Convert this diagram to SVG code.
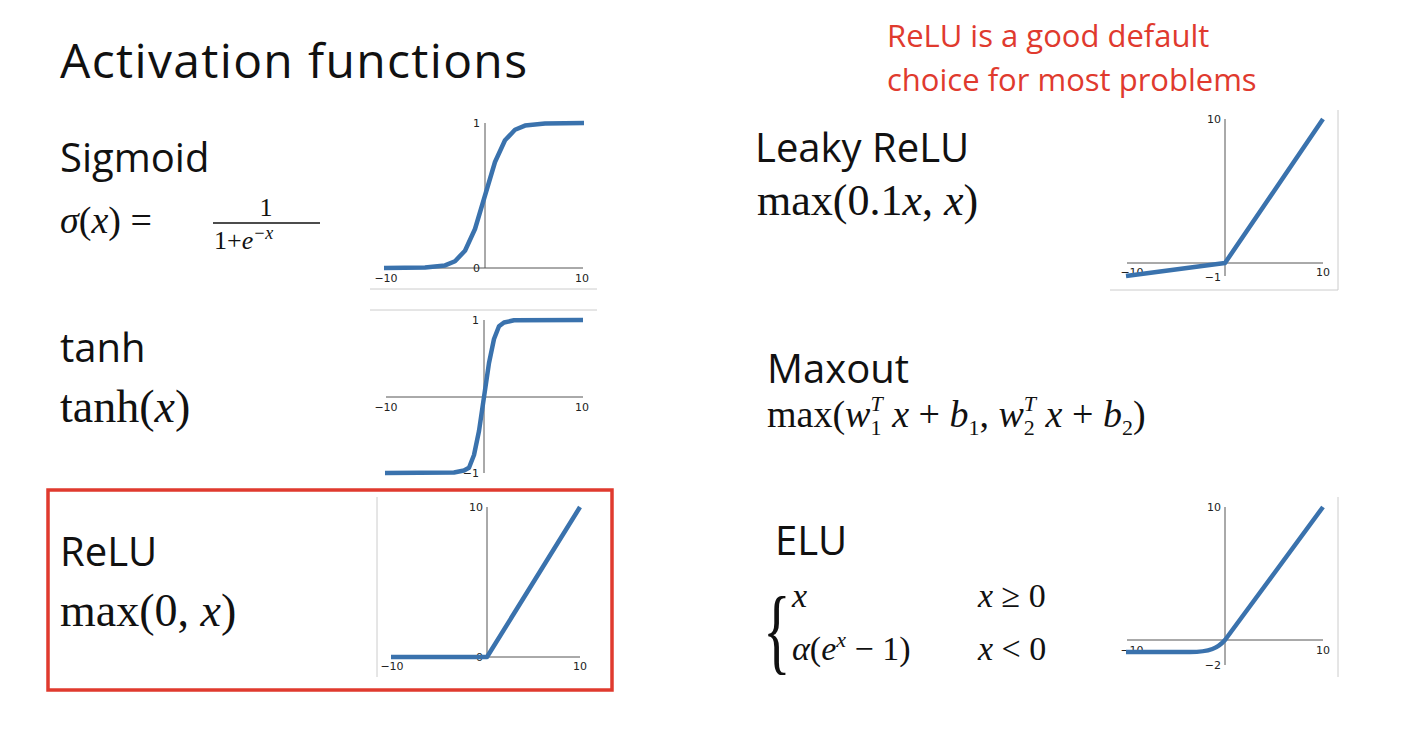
<svg xmlns="http://www.w3.org/2000/svg" width="1425" height="741" viewBox="0 0 1425 741">
<style>
.t{font-family:"Open Sans","Noto Sans",sans-serif;fill:#111}
.m{font-family:"Liberation Serif","DejaVu Serif",serif;fill:#111}
.i{font-style:italic}
.ax{stroke:#555;stroke-width:1;fill:none}
.fr{stroke:#ccc;stroke-width:1;fill:none}
.c{stroke:#3a72ad;stroke-width:4.5;fill:none;stroke-linejoin:round}
.tk{font-family:"DejaVu Sans",sans-serif;font-size:11px;fill:#222}
</style>
<rect width="1425" height="741" fill="#fff"/>
<text class="t" x="60" y="78" font-size="48" textLength="467">Activation functions</text>
<text x="887" y="47" font-family="Open Sans,sans-serif" font-size="31" fill="#e03a2e">ReLU is a good default</text>
<text x="887" y="91" font-family="Open Sans,sans-serif" font-size="31" fill="#e03a2e">choice for most problems</text>

<g id="sigmoid">
<text class="t" x="60" y="172" font-size="40">Sigmoid</text>
<text class="m" x="60" y="233" font-size="38"><tspan class="i">σ</tspan>(<tspan class="i">x</tspan>) =</text>
<text class="m" x="266" y="216" font-size="26" text-anchor="middle">1</text>
<line x1="213" y1="223" x2="320" y2="223" stroke="#111" stroke-width="1.5"/>
<text class="m" x="214" y="249" font-size="26">1+<tspan class="i">e</tspan><tspan font-size="18" dy="-10" class="i">−x</tspan></text>
<line class="fr" x1="370" y1="289" x2="597" y2="289"/>
<line class="ax" x1="384" y1="268" x2="583" y2="268"/>
<line class="ax" x1="485" y1="123" x2="485" y2="268"/>
<text class="tk" x="480" y="127" text-anchor="end">1</text>
<text class="tk" x="480" y="272" text-anchor="end">0</text>
<text class="tk" x="386" y="282" text-anchor="middle">−10</text>
<text class="tk" x="582" y="282" text-anchor="middle">10</text>
<polyline class="c" points="384,268 425,267.6 445,265.4 455,261.2 465,250.7 475,229 485,195.5 495,162 505,140.3 515,129.8 525,125.6 545,123.4 584,123"/>
</g>

<g id="tanh">
<text class="t" x="60" y="362" font-size="40">tanh</text>
<text class="m" x="60" y="422" font-size="46">tanh(<tspan class="i">x</tspan>)</text>
<line class="fr" x1="370" y1="310" x2="597" y2="310"/>
<line class="ax" x1="386" y1="397" x2="583" y2="397"/>
<line class="ax" x1="484" y1="320" x2="484" y2="473"/>
<text class="tk" x="479" y="324" text-anchor="end">1</text>
<text class="tk" x="479" y="477" text-anchor="end">−1</text>
<text class="tk" x="386" y="411" text-anchor="middle">−10</text>
<text class="tk" x="582" y="411" text-anchor="middle">10</text>
<polyline class="c" points="385,473 454,472.5 464,470.5 469,467.7 474,455 479,431 484,397 489,363 494,339 499,326.3 504,322.5 514,320.3 583,320"/>
</g>

<g id="relu">
<rect x="48" y="490" width="564" height="200" fill="none" stroke="#e03a2e" stroke-width="3.5"/>
<text class="t" x="60" y="566" font-size="40">ReLU</text>
<text class="m" x="60" y="626" font-size="46">max(0, <tspan class="i">x</tspan>)</text>
<line class="fr" x1="377" y1="497" x2="377" y2="677"/>
<line class="ax" x1="391" y1="657" x2="580" y2="657"/>
<line class="ax" x1="487" y1="507" x2="487" y2="657"/>
<text class="tk" x="483" y="511" text-anchor="end">10</text>
<text class="tk" x="483" y="661" text-anchor="end">0</text>
<text class="tk" x="392" y="670" text-anchor="middle">−10</text>
<text class="tk" x="580" y="670" text-anchor="middle">10</text>
<path class="c" d="M391,657 L487,657 L580,507"/>
</g>

<g id="leaky">
<text class="t" x="755" y="162" font-size="40">Leaky ReLU</text>
<text class="m" x="757" y="215" font-size="44">max(0.1<tspan class="i">x</tspan>, <tspan class="i">x</tspan>)</text>
<line class="fr" x1="1110" y1="290" x2="1338" y2="290"/>
<line class="fr" x1="1338" y1="110" x2="1338" y2="290"/>
<line class="ax" x1="1127" y1="263" x2="1323" y2="263"/>
<line class="ax" x1="1225" y1="119" x2="1225" y2="276"/>
<text class="tk" x="1221" y="123" text-anchor="end">10</text>
<text class="tk" x="1221" y="281" text-anchor="end">−1</text>
<text class="tk" x="1132" y="276" text-anchor="middle">−10</text>
<text class="tk" x="1323" y="276" text-anchor="middle">10</text>
<path class="c" d="M1126,276 L1225,263 L1323,119"/>
</g>

<g id="maxout">
<text class="t" x="767" y="383" font-size="40">Maxout</text>
<text class="m" x="767" y="427" font-size="38">max(<tspan class="i">w</tspan><tspan font-size="22" dy="8">1</tspan><tspan font-size="22" dx="-11" dy="-24" class="i">T</tspan><tspan dy="16" class="i"> x</tspan> + <tspan class="i">b</tspan><tspan font-size="22" dy="8">1</tspan><tspan dy="-8">, </tspan><tspan class="i">w</tspan><tspan font-size="22" dy="8">2</tspan><tspan font-size="22" dx="-11" dy="-24" class="i">T</tspan><tspan dy="16" class="i"> x</tspan> + <tspan class="i">b</tspan><tspan font-size="22" dy="8">2</tspan><tspan dy="-8">)</tspan></text>
</g>

<g id="elu">
<text class="t" x="775" y="555" font-size="40">ELU</text>
<text class="m" x="763" y="662" font-size="96" transform="scale(0.6,1) translate(508.7,0)">{</text>
<text class="m" x="792" y="607" font-size="34"><tspan class="i">x</tspan></text>
<text class="m" x="978" y="607" font-size="34"><tspan class="i">x</tspan> ≥ 0</text>
<text class="m" x="792" y="660" font-size="34"><tspan class="i">α</tspan>(<tspan class="i">e</tspan><tspan font-size="22" dy="-13" class="i">x</tspan><tspan dy="13"> − 1)</tspan></text>
<text class="m" x="978" y="660" font-size="34"><tspan class="i">x</tspan> &lt; 0</text>
<line class="fr" x1="1338" y1="497" x2="1338" y2="677"/>
<line class="ax" x1="1127" y1="640" x2="1323" y2="640"/>
<line class="ax" x1="1225" y1="507" x2="1225" y2="665"/>
<text class="tk" x="1221" y="511" text-anchor="end">10</text>
<text class="tk" x="1221" y="669" text-anchor="end">−2</text>
<text class="tk" x="1132" y="654" text-anchor="middle">−10</text>
<text class="tk" x="1323" y="654" text-anchor="middle">10</text>
<path class="c" d="M1126,652 L1190,652 C1210,652 1218,648 1225,640 L1323,507"/>
</g>
</svg>
